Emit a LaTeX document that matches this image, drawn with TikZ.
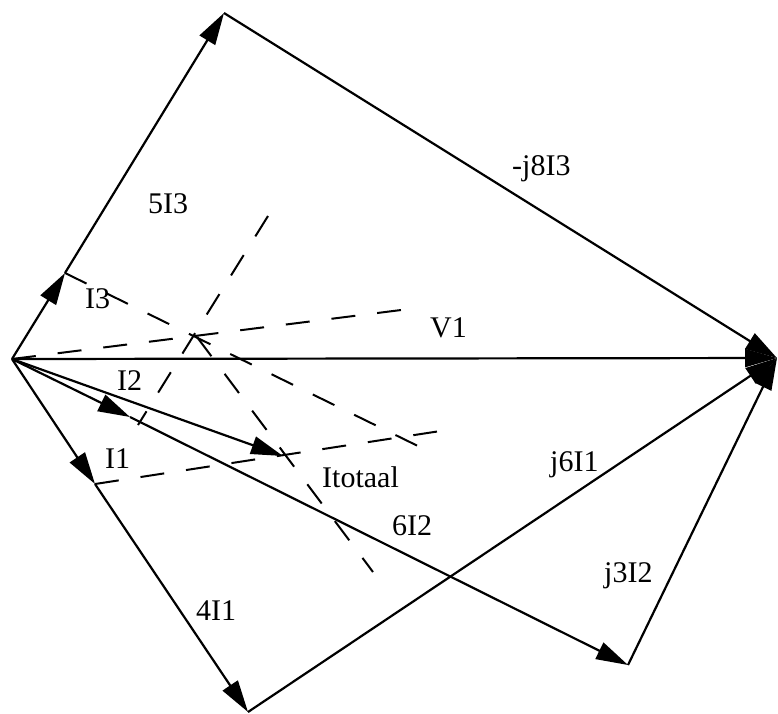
\documentclass[tikz,border=0pt]{standalone}
\usepackage{fontspec}
\setmainfont{Liberation Serif}
\usetikzlibrary{arrows.meta}
\tikzset{
  vec/.style={line width=2.2pt, -{Triangle[length=32pt,width=18pt]}},
  constr/.style={line width=2pt, dash pattern=on 24pt off 22pt},
  lbl/.style={anchor=base west, inner sep=0pt, font=\fontsize{30}{36}\selectfont}
}
\begin{document}
\begin{tikzpicture}[x=1pt,y=-1pt]
\useasboundingbox (0,0) rectangle (778,713);
% main points
\coordinate (O) at (12,359);
\coordinate (A) at (224,13);
\coordinate (P) at (777,358);
\coordinate (B) at (248,712);
\coordinate (C) at (95,484);
\coordinate (D) at (628,665);
\coordinate (I3t) at (65,273);
\coordinate (I2t) at (130,417);
\coordinate (T) at (283,456);
\coordinate (Q) at (197,337);
% construction end points
\coordinate (V1e) at (417,308);
\coordinate (E2) at (422,448);
\coordinate (F3) at (268,216);
\coordinate (G3) at (138,425);
\coordinate (E4) at (373,572);
\coordinate (E5) at (447,430);
% dashed construction lines
\draw[constr] (O) -- (V1e);
\draw[constr] (I3t) -- (E2);
\draw[constr] (F3) -- (G3);
\draw[constr] (Q) -- (E4);
\draw[constr] (C) -- (E5);
% phasors
\draw[vec] (O) -- (I3t);
\draw[vec] (I3t) -- (A);
\draw[vec] (A) -- (P);
\draw[vec] (O) -- (P);
\draw[vec] (O) -- (I2t);
\draw[vec] (I2t) -- (D);
\draw[vec] (D) -- (P);
\draw[vec] (O) -- (C);
\draw[vec] (C) -- (B);
\draw[vec] (B) -- (P);
\draw[vec] (O) -- (T);
% labels
\node[lbl] (lI3) at (85,308) {I3};
\node[lbl] (lI2) at (117,390) {I2};
\node[lbl] (lI1) at (105,468) {I1};
\node[lbl] (l5I3) at (148,213) {5I3};
\node[lbl] (lV1) at (430,337) {V1};
\node[lbl] (lj8) at (512,175) {-j8I3};
\node[lbl] (lIt) at (322,487) {Itotaal};
\node[lbl] (l6I2) at (392,535) {6I2};
\node[lbl] (lj3) at (604,582) {j3I2};
\node[lbl] (lj6) at (550,471) {j6I1};
\node[lbl] (l4I1) at (196,620) {4I1};
\end{tikzpicture}
\end{document}
